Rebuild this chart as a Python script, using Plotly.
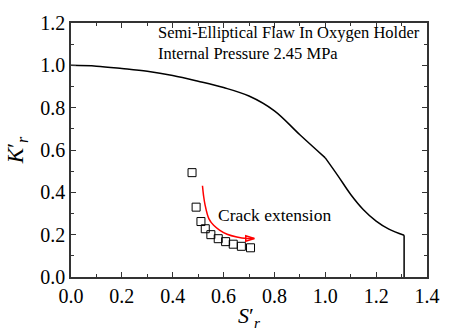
import plotly.graph_objects as go

# Failure assessment curve
fad_x = [0.0, 0.1, 0.2, 0.3, 0.4, 0.5, 0.6, 0.7, 0.8, 0.9, 1.0,
         1.05, 1.1, 1.15, 1.2, 1.25, 1.31, 1.31]
fad_y = [1.0, 0.996, 0.985, 0.972, 0.952, 0.925, 0.895, 0.855, 0.785, 0.672, 0.563,
         0.478, 0.39, 0.318, 0.264, 0.226, 0.197, 0.0]
KINK = 10   # index of the kink at S'r = 1.0
CUT = 16    # index of the cut-off

# Assessment points (crack extension)
pts_x = [0.476, 0.492, 0.511, 0.528, 0.550, 0.579, 0.608, 0.638, 0.670, 0.706]
pts_y = [0.493, 0.330, 0.262, 0.228, 0.200, 0.181, 0.167, 0.155, 0.145, 0.138]

# Curved arrow path
arrow_x = [0.517, 0.521, 0.527, 0.542, 0.561, 0.584, 0.614, 0.652, 0.691, 0.721]
arrow_y = [0.431, 0.387, 0.342, 0.276, 0.244, 0.222, 0.202, 0.189, 0.182, 0.182]

x_ticks = [0.0, 0.2, 0.4, 0.6, 0.8, 1.0, 1.2, 1.4]
y_ticks = [0.0, 0.2, 0.4, 0.6, 0.8, 1.0, 1.2]

FONT = "Liberation Serif"

fig = go.Figure()
segments = [(0, KINK + 1, "spline"), (KINK, CUT + 1, "spline"), (CUT, len(fad_x), "linear")]
for a, b, shp in segments:
    fig.add_trace(go.Scatter(x=fad_x[a:b], y=fad_y[a:b], mode="lines",
                             line=dict(color="black", width=1.5, shape=shp),
                             showlegend=False))
fig.add_trace(go.Scatter(x=pts_x, y=pts_y, mode="markers",
                         marker=dict(symbol="square-open", size=8, color="black",
                                     line=dict(width=1)),
                         showlegend=False))
fig.add_trace(go.Scatter(x=arrow_x, y=arrow_y, mode="lines",
                         line=dict(color="red", width=1.5, shape="spline"),
                         showlegend=False))
fig.add_trace(go.Scatter(x=[arrow_x[-1]], y=[arrow_y[-1]], mode="markers",
                         marker=dict(symbol="arrow-open", size=9, color="red", angle=90,
                                     line=dict(width=1.5, color="red")),
                         showlegend=False))

fig.add_annotation(x=0.572, y=0.293, xref="x", yref="y", text="Crack extension",
                   showarrow=False, xanchor="left", yanchor="middle",
                   font=dict(family=FONT, size=17.5, color="black"))
fig.add_annotation(x=0.335, y=1.008, xref="x", yref="paper",
                   text="Semi-Elliptical Flaw In Oxygen Holder<br>Internal Pressure 2.45 MPa",
                   showarrow=False, xanchor="left", yanchor="top", align="left",
                   font=dict(family=FONT, size=16.5, color="black"))

axis_common = dict(
    showline=True, linecolor="#333333", linewidth=1.5, mirror="ticks",
    ticks="inside", ticklen=5, tickwidth=1.2, tickcolor="#333333",
    showgrid=False, zeroline=False,
    tickfont=dict(family=FONT, size=20, color="black"),
    tickformat=".1f",
)

fig.update_xaxes(range=[0, 1.4], tickvals=x_ticks,
                 minor=dict(dtick=0.1, ticks="inside", ticklen=3, tickcolor="#333333", showgrid=False),
                 title=dict(text="<i>S</i>′<sub><i>r</i></sub>", standoff=2,
                            font=dict(family=FONT, size=22, color="black")),
                 **axis_common)
fig.update_yaxes(range=[0, 1.2], tickvals=y_ticks,
                 minor=dict(dtick=0.1, ticks="inside", ticklen=3, tickcolor="#333333", showgrid=False),
                 title=dict(text="<i>K</i>′<sub><i>r</i></sub>", standoff=10,
                            font=dict(family=FONT, size=23, color="black")),
                 **axis_common)

fig.update_layout(width=452, height=336,
                  margin=dict(l=71, r=14, t=20, b=46, pad=0),
                  paper_bgcolor="white", plot_bgcolor="white",
                  font=dict(family=FONT))

fig.write_html("out.html")
